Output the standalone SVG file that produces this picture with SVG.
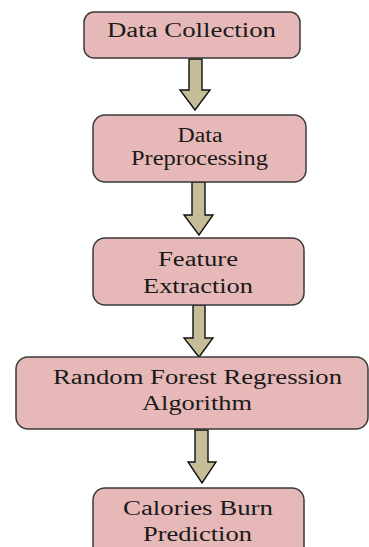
<svg xmlns="http://www.w3.org/2000/svg" width="369" height="547" viewBox="0 0 369 547">
<style>
.box{fill:#E6B8B7;stroke:#3a3a3a;stroke-width:1.5}
.arr{fill:#C4BD97;stroke:#111;stroke-width:1.4;stroke-linejoin:miter}
text{font-family:"Liberation Serif","Times New Roman",serif;font-size:20px;fill:#1a1a1a;text-anchor:middle}
</style>
<rect width="369" height="547" fill="#fff"/>
<g id="connectors">
<polygon class="arr" points="189,59 202,59 202,90 210,90 195,110 180,90 189,90"/>
<polygon class="arr" points="192,182 205,182 205,215 213,215 199,235 184,215 192,215"/>
<polygon class="arr" points="193,305 205,305 205,338 213,338 199,357 184,338 193,338"/>
<polygon class="arr" points="195,430 208,430 208,462 216,462 202,483 188,462 195,462"/>
</g>
<g id="n1">
<rect class="box" x="84" y="12" width="216" height="46" rx="10"/>
<text x="191.5" y="37" textLength="169" lengthAdjust="spacingAndGlyphs">Data Collection</text>
</g>
<g id="n2">
<rect class="box" x="93" y="115" width="213" height="67" rx="12"/>
<text x="200" y="142" textLength="45" lengthAdjust="spacingAndGlyphs">Data</text>
<text x="199.5" y="165" textLength="137" lengthAdjust="spacingAndGlyphs">Preprocessing</text>
</g>
<g id="n3">
<rect class="box" x="93" y="238" width="211" height="67" rx="12"/>
<text x="198" y="266" textLength="80" lengthAdjust="spacingAndGlyphs">Feature</text>
<text x="198" y="293" textLength="110" lengthAdjust="spacingAndGlyphs">Extraction</text>
</g>
<g id="n4">
<rect class="box" x="16" y="357" width="352" height="72" rx="12"/>
<text x="197.5" y="384" textLength="289" lengthAdjust="spacingAndGlyphs">Random Forest Regression</text>
<text x="197" y="410" textLength="110" lengthAdjust="spacingAndGlyphs">Algorithm</text>
</g>
<g id="n5">
<rect class="box" x="93" y="488" width="211" height="75" rx="12"/>
<text x="198" y="515" textLength="150" lengthAdjust="spacingAndGlyphs">Calories Burn</text>
<text x="197.5" y="541" textLength="109" lengthAdjust="spacingAndGlyphs">Prediction</text>
</g>
</svg>
